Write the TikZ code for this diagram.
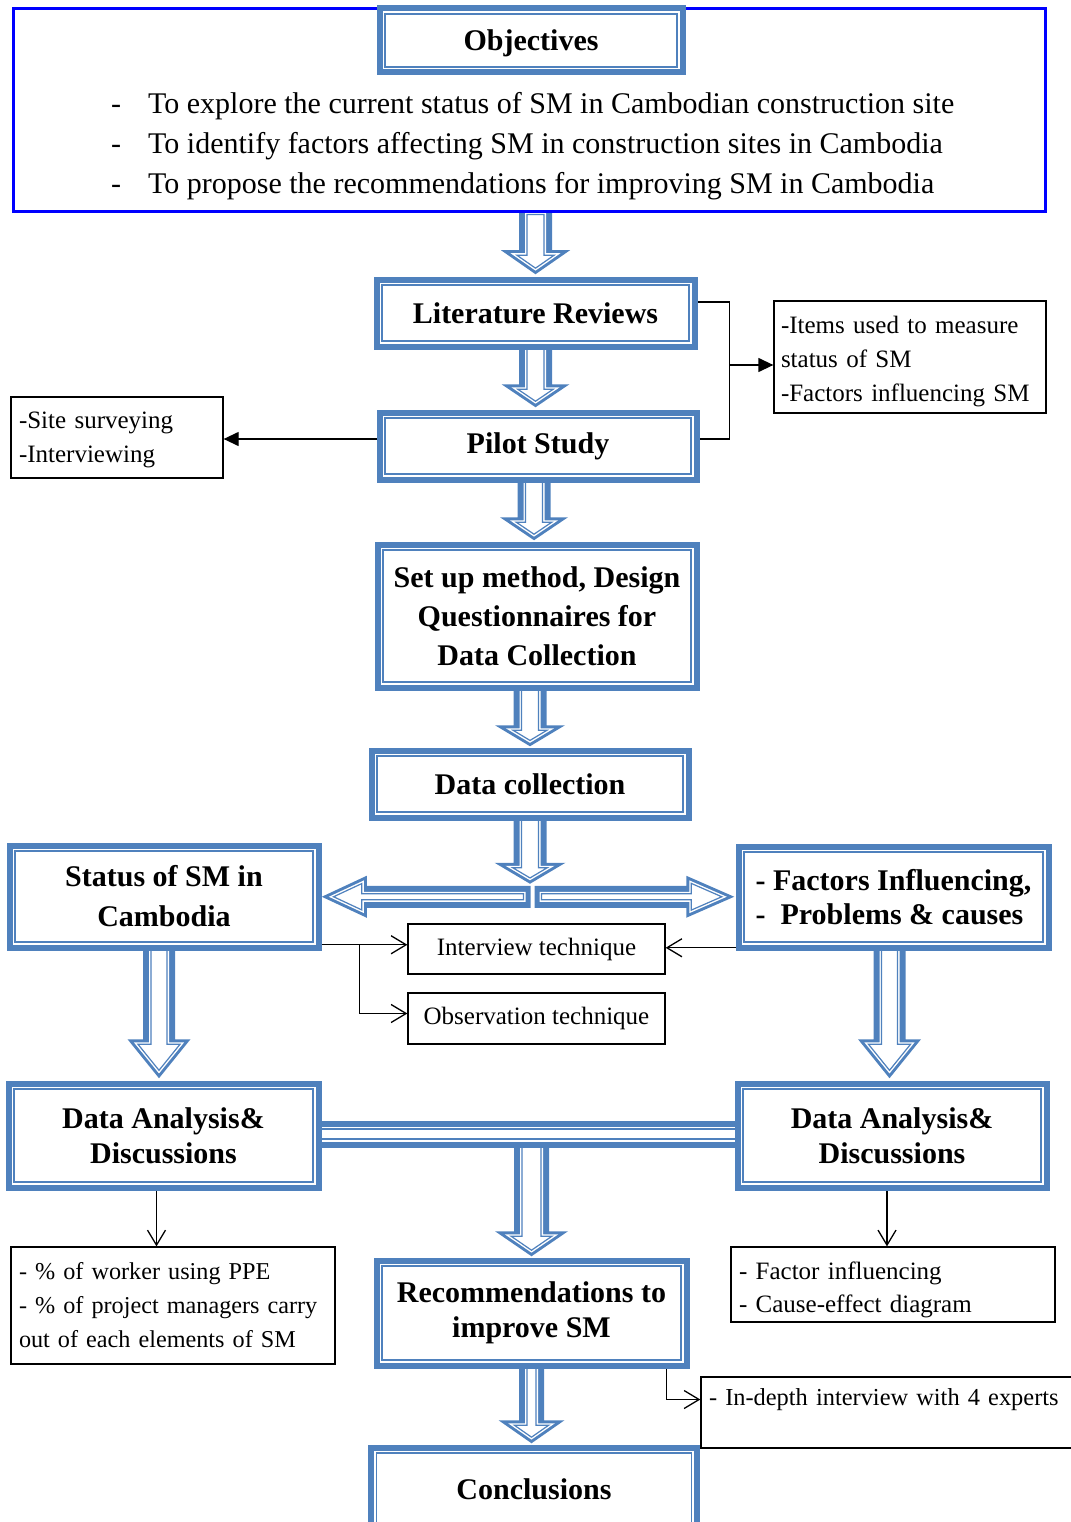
\documentclass[tikz,border=0pt]{standalone}
\usepackage{fontspec}
\setmainfont{Liberation Serif}
\usepackage{tikz}
\usetikzlibrary{positioning, calc, arrows.meta, backgrounds}
\definecolor{smblue}{RGB}{79,129,189}
\definecolor{objblue}{RGB}{0,0,255}

% hollow block arrow: from, to, head length, shaft half width, head half width
\newcommand{\blockarrow}[5]{%
  \path #1 coordinate (ba-s);
  \path #2 coordinate (ba-e);
  \pgfpointdiff{\pgfpointanchor{ba-s}{center}}{\pgfpointanchor{ba-e}{center}}%
  \pgfgetlastxy{\bax}{\bay}%
  \pgfmathsetmacro\balen{veclen(\bax,\bay)}%
  \pgfmathsetmacro\barot{atan2(\bay,\bax)+90}%
  \pgfmathsetmacro\babase{\balen-#3}%
  \pgfmathsetmacro\baal{atan(#5/#3)}%
  \pgfmathsetmacro\bawtip{\balen-3/sin(\baal)}%
  \pgfmathsetmacro\bawhead{#5*(1-3/#3)-3/cos(\baal)}%
  \pgfmathsetmacro\battip{\balen-5/sin(\baal)}%
  \pgfmathsetmacro\bathead{#5*(1-5/#3)-5/cos(\baal)}%
  \begin{scope}[shift={(ba-s)}, rotate=\barot]
    \fill[smblue] (-#4,0) -- (-#4,\babase) -- (-#5,\babase) -- (0,\balen) -- (#5,\babase) -- (#4,\babase) -- (#4,0) -- cycle;
    \fill[white] (-#4+6,5) -- (-#4+6,\babase+3) -- (-\bawhead,\babase+3) -- (0,\bawtip) -- (\bawhead,\babase+3) -- (#4-6,\babase+3) -- (#4-6,5) -- cycle;
    \draw[smblue, line width=1.2pt] (-#4+8,7) -- (-#4+8,\babase+5) -- (-\bathead,\babase+5) -- (0,\battip) -- (\bathead,\babase+5) -- (#4-8,\babase+5) -- (#4-8,7) -- cycle;
  \end{scope}}

\begin{document}
\begin{tikzpicture}[x=1pt, y=-1pt,
    dblline/.style={preaction={draw=smblue, line width=17pt}, preaction={draw=white, line width=5pt}, fill=white, draw=smblue, line width=1.5pt},
    dblbox/.style={dblline, align=center, inner sep=0pt, font=\fontsize{30}{35}\selectfont\bfseries},
    notebox/.style={draw=black, line width=1.3pt, fill=white, align=left, inner xsep=8pt, inner ysep=0pt, font=\fontsize{25}{34}\selectfont},
    objframe/.style={draw=objblue, line width=3pt, fill=white},
    conn/.style={draw=black, line width=1.3pt},
    openarr/.style={conn, -{Straight Barb[length=15pt, width=18pt]}},
    fillarr/.style={conn, -{Triangle[length=15pt, width=14pt]}}]
\useasboundingbox (0,0) rectangle (1070,1522);

% objectives
\node[objframe, minimum width=1032pt, minimum height=203pt] (objall) at (529,110.5) {};
\node[dblbox, minimum width=292pt, minimum height=53pt] (obj) at (531,40.5) {\rule{0pt}{27pt}Objectives};
\node[anchor=west, inner sep=0pt, font=\fontsize{30}{40}\selectfont] (objlist) at (111,146)
  {\begin{tabular}{@{}l@{\hspace{27pt}}l@{}}
   - & To explore the current status of SM in Cambodian construction site\\
   - & To identify factors affecting SM in construction sites in Cambodia\\
   - & To propose the recommendations for improving SM in Cambodia
   \end{tabular}};

% main steps
\node[dblbox, minimum width=307pt, minimum height=56pt] (lit) at (535.5,313) {Literature Reviews};
\node[dblbox, minimum width=306pt, minimum height=56pt] (pilot) at (538,446) {Pilot Study};
\node[dblbox, minimum width=308pt, minimum height=132pt, font=\fontsize{30}{39}\selectfont\bfseries] (setup) at (537,616)
  {Set up method, Design\\Questionnaires for\\Data Collection};
\node[dblbox, minimum width=306pt, minimum height=56pt] (dc) at (530,784) {Data collection};
\node[dblbox, minimum width=298pt, minimum height=91pt, font=\fontsize{30}{40}\selectfont\bfseries] (status) at (164,896.5)
  {Status of SM in\\Cambodia};
\node[dblbox, minimum width=299pt, minimum height=90pt, font=\fontsize{30}{34}\selectfont\bfseries] (factors) at (893.5,897)
  {- Factors Influencing,\\\hspace*{-8pt}-~~Problems \& causes};
\node[dblbox, minimum width=299pt, minimum height=93pt] (dal) at (163.5,1135.5) {Data Analysis\&\\Discussions};
\node[dblbox, minimum width=298pt, minimum height=93pt] (dar) at (892,1135.5) {Data Analysis\&\\Discussions};
\node[dblbox, minimum width=299pt, minimum height=94pt] (rec) at (531.5,1313) {Recommendations to\\improve SM};
\node[dblbox, minimum width=315pt, minimum height=72pt] (concl) at (534,1489) {Conclusions};

% notes
\node[notebox, minimum width=272pt, minimum height=112pt, text width=258pt, inner xsep=7pt] (items) at (910,357)
  {\rule{0pt}{26pt}-Items used to measure\\status of SM\\-Factors influencing SM};
\node[notebox, minimum width=212pt, minimum height=81pt, text width=196pt] (site) at (117,437.5)
  {\rule{0pt}{22pt}-Site surveying\\-Interviewing};
\node[notebox, align=center, minimum width=257pt, minimum height=50pt] (interview) at (536.5,949) {Interview technique};
\node[notebox, align=center, minimum width=257pt, minimum height=51pt] (observation) at (536.5,1018.5) {Observation technique};
\node[notebox, minimum width=324pt, minimum height=117pt, text width=316pt, inner xsep=4pt, font=\fontsize{24.2}{34}\selectfont] (ppe) at (173,1305.5)
  {\hspace*{4pt}- \% of worker using PPE\\\hspace*{4pt}- \% of project managers carry\\\hspace*{4pt}out of each elements of SM};
\node[notebox, minimum width=324pt, minimum height=75pt, text width=308pt, font=\fontsize{25}{33}\selectfont] (factorlist) at (893,1284.5)
  {\rule{0pt}{28pt}- Factor influencing\\- Cause-effect diagram};
\node[notebox, text width=370pt, text height=17pt, text depth=31pt, inner ysep=11.5pt, font=\fontsize{24.4}{34}\selectfont] (indepth) at (894,1412.5)
  {- In-depth interview with 4 experts};

\path ($(status.east)!0.5!(factors.west)+(4,0)$) coordinate (split);

\begin{scope}[on background layer]
% block arrows
\blockarrow{([yshift=6pt]objall.south -| lit.north)}{([yshift=10pt]lit.north)}{24}{16.5}{34.5}
\blockarrow{(lit.south)}{([yshift=10pt]lit.south |- pilot.north)}{23}{16.5}{34}
\blockarrow{([xshift=-4pt]pilot.south)}{([xshift=-4pt,yshift=9pt]pilot.south |- setup.north)}{23}{16.5}{34}
\blockarrow{(setup.south -| dc.north)}{([yshift=9pt]dc.north)}{21}{16.5}{35}
\blockarrow{(dc.south)}{([yshift=13pt]dc.south |- split)}{21}{16.5}{35.5}
\blockarrow{([xshift=-2pt]split)}{([xshift=8pt]status.east |- split)}{45}{11}{21}
\blockarrow{([xshift=2pt]split)}{([xshift=-9pt]factors.west |- split)}{48}{11}{21}
\blockarrow{([xshift=-5pt]status.south)}{([xshift=-5pt,yshift=10pt]status.south |- dal.north)}{39}{16}{31.5}
\blockarrow{([xshift=-4pt]factors.south)}{([xshift=-4pt,yshift=10pt]factors.south |- dar.north)}{39}{16}{31.5}
\blockarrow{(rec.north |- dal.east)}{([yshift=9pt]rec.north)}{25}{17.5}{36.5}
\blockarrow{(rec.south)}{([yshift=9pt]rec.south |- concl.north)}{23}{12.5}{33}
\path[dblline] ([yshift=6.5pt]dal.east) rectangle ([yshift=-3.5pt]dar.west);

% thin connectors
\draw[conn] ([yshift=11pt]lit.east) -- ++(40,0) |- ([yshift=7pt]pilot.east);
\draw[fillarr] ([xshift=40pt,yshift=-8pt]lit.east |- items.west) -- ([yshift=-8pt]items.west);
\draw[fillarr] ([yshift=7pt]pilot.west) -- ([yshift=7pt]pilot.west -| site.east);
\draw[openarr] ([yshift=-2pt]status.south east) -- ([yshift=-2pt]status.south east -| interview.west);
\draw[openarr] ([xshift=46pt,yshift=-2pt]status.south east) |- ([yshift=5pt]observation.west);
\draw[openarr] ([yshift=-5pt]factors.south west) -- ([yshift=-5pt]factors.south west -| interview.east);
\draw[openarr] ([xshift=-7pt]dal.south) -- ([xshift=-7pt]dal.south |- ppe.north);
\draw[openarr] ([xshift=-5pt]dar.south) -- ([xshift=-5pt]dar.south |- factorlist.north);
\draw[openarr] ([xshift=-15pt]rec.south east) |- ([yshift=13pt]indepth.west);
\end{scope}
\end{tikzpicture}
\end{document}
